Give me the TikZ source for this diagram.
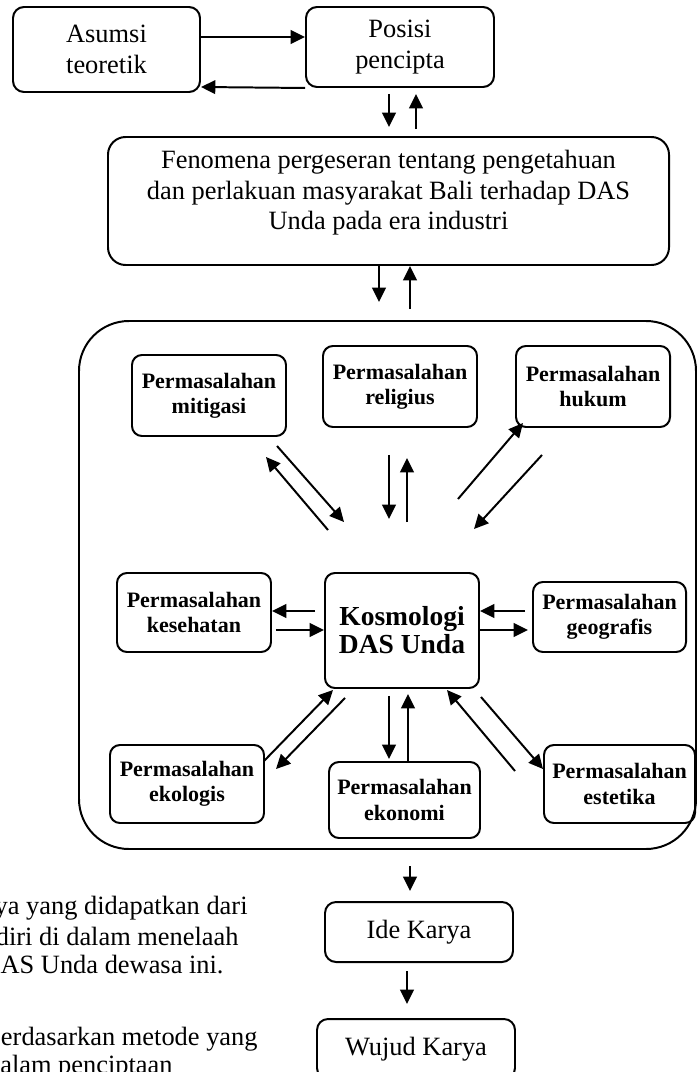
\documentclass[tikz,border=0pt]{standalone}
\usepackage{fontspec}
\setmainfont{Liberation Serif}
\usetikzlibrary{calc, arrows.meta}
\newcommand{\pxu}{0.4545pt}

\begin{document}
\begin{tikzpicture}[x=0.4545pt, y=-0.4545pt,
        kotak/.style={draw, line width=0.9pt, rounded corners=5pt, align=center, inner sep=0pt, font=\fontsize{12}{13.8}\selectfont},
        masalah/.style={draw, line width=0.9pt, rounded corners=4.5pt, align=center, inner sep=0pt, font=\bfseries\fontsize{10}{11.5}\selectfont},
        panah/.style={-{Triangle[length=6.5pt, width=6.2pt]}, line width=0.9pt},
        teks/.style={anchor=base east, inner sep=0pt, font=\fontsize{12}{13.8}\selectfont}]
        \useasboundingbox (0,0) rectangle (697,1072);
        \clip (0,0) rectangle (697,1072);

        \node[kotak, minimum width=187*\pxu, minimum height=85*\pxu] (asumsi) at (106.5,49.5) {Asumsi\\teoretik};
        \node[kotak, minimum width=188*\pxu, minimum height=80*\pxu] (posisi) at (400,47) {Posisi\\pencipta};
        \node[kotak, rounded corners=8pt, minimum width=561*\pxu, minimum height=128*\pxu] (fenomena) at (388.5,201) {};
        \node[align=center, font=\fontsize{12}{13.8}\selectfont] (fenomenateks) at (388.5,193) {Fenomena pergeseran tentang pengetahuan\\dan perlakuan masyarakat Bali terhadap DAS\\Unda pada era industri};
        \node[draw, line width=0.9pt, rounded corners=22.7pt, minimum width=617*\pxu, minimum height=528*\pxu] (wadah) at (387.5,585) {};

        \node[masalah, minimum width=154*\pxu, minimum height=81*\pxu] (mitigasi) at (209,395.5) {Permasalahan\\mitigasi};
        \node[masalah, minimum width=154*\pxu, minimum height=81*\pxu] (religius) at (400,386.5) {Permasalahan\\religius};
        \node[masalah, minimum width=154*\pxu, minimum height=81*\pxu] (hukum) at (593,386.5) {Permasalahan\\hukum};
        \node[masalah, minimum width=154*\pxu, minimum height=79*\pxu] (kesehatan) at (194,612.5) {Permasalahan\\kesehatan};
        \node[masalah, minimum width=154*\pxu, minimum height=115*\pxu, font=\bfseries\fontsize{12.5}{12.8}\selectfont] (kosmologi) at (402,630.5) {Kosmologi\\DAS Unda};
        \node[masalah, minimum width=153*\pxu, minimum height=70*\pxu] (geografis) at (609.5,617) {Permasalahan\\geografis};
        \node[masalah, minimum width=154*\pxu, minimum height=78*\pxu] (ekologis) at (187,784) {Permasalahan\\ekologis};
        \node[masalah, minimum width=151*\pxu, minimum height=76*\pxu] (ekonomi) at (404.5,800) {Permasalahan\\ekonomi};
        \node[masalah, minimum width=151*\pxu, minimum height=78*\pxu] (estetika) at (619.5,784) {Permasalahan\\estetika};

        \node[kotak, minimum width=188*\pxu, minimum height=60*\pxu] (ide) at (419,932) {Ide Karya};
        \node[kotak, minimum width=198*\pxu, minimum height=60*\pxu] (wujud) at (416,1049) {Wujud Karya};

        \node[teks] (teks1) at (248,914) {ya yang didapatkan dari};
        \node[teks] (teks2) at (239,945) {diri di dalam menelaah};
        \node[teks] (teks3) at (224,973) {DAS Unda dewasa ini.};
        \node[teks] (teks4) at (258,1045) {erdasarkan metode yang};
        \node[teks] (teks5) at (173,1073) {alam penciptaan};

        \draw[panah] ($(asumsi.east)+(0,-12.5)$) -- ($(posisi.west)+(0,-10)$);
        \draw[panah] (posisi.south west) -- ($(asumsi.east)+(0,37.5)$);
        \draw[panah] ($(posisi.south)+(-11,6)$) -- ($(fenomena.north)+(0.5,-9)$);
        \draw[panah] ($(fenomena.north)+(27.5,-7)$) -- ($(posisi.south)+(16,6)$);
        \draw[panah] ($(fenomena.south)+(-9.5,0)$) -- ($(wadah.north)+(-8.5,-18)$);
        \draw[panah] ($(wadah.north)+(22.5,-11)$) -- ($(fenomena.south)+(21.5,0)$);

        \draw[panah] ($(mitigasi.south east)+(-10,9)$) -- ($(kosmologi.north west)+(20,-50)$);
        \draw[panah] ($(kosmologi.north west)+(4,-42)$) -- ($(mitigasi.south east)+(-21,20)$);
        \draw[panah] ($(religius.south)+(-11,27)$) -- ($(kosmologi.north)+(-13,-53)$);
        \draw[panah] ($(kosmologi.north)+(5,-50)$) -- ($(religius.south)+(7,30)$);
        \draw[panah] ($(kosmologi.north east)+(-22,-73)$) -- ($(hukum.south west)+(8,-5)$);
        \draw[panah] ($(hukum.south west)+(27,27)$) -- ($(kosmologi.north east)+(-6,-43)$);
        \draw[panah] ($(kosmologi.west)+(-9,-19.5)$) -- ($(kesehatan.east)+(0,-1.5)$);
        \draw[panah] ($(kesehatan.east)+(4,17.5)$) -- ($(kosmologi.west)+(0,-0.5)$);
        \draw[panah] ($(geografis.west)+(-7,-6)$) -- ($(kosmologi.east)+(0,-19.5)$);
        \draw[panah] ($(kosmologi.east)+(0,-0.5)$) -- ($(geografis.west)+(-4,13)$);
        \draw[panah] ($(ekologis.north east)+(-1,17)$) -- ($(kosmologi.south west)+(9,1)$);
        \draw[panah] ($(kosmologi.south west)+(21,9)$) -- ($(ekologis.north east)+(11,25)$);
        \draw[panah] ($(kosmologi.south)+(-13,7)$) -- ($(ekonomi.north)+(-15.5,-2)$);
        \draw[panah] ($(ekonomi.north)+(3.5,0)$) -- ($(kosmologi.south)+(6,5)$);
        \draw[panah] ($(estetika.north west)+(-28,27)$) -- ($(kosmologi.south east)+(-33,1)$);
        \draw[panah] ($(kosmologi.south east)+(1,8)$) -- ($(estetika.north west)+(0,25)$);

        \draw[panah] ($(wadah.south)+(22.5,16)$) -- ($(ide.north)+(-9,-10)$);
        \draw[panah] ($(ide.south)+(-12,8)$) -- ($(wujud.north)+(-9,-14)$);
    \end{tikzpicture}
\end{document}
